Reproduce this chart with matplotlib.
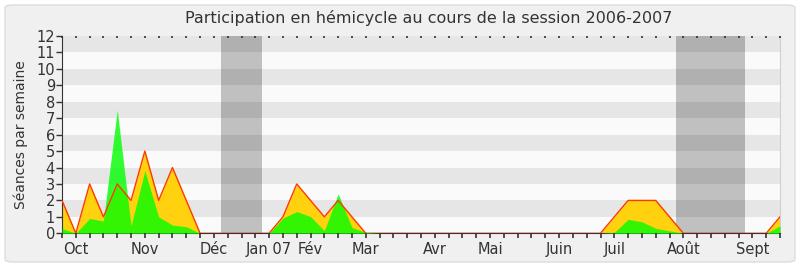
import numpy as np
import matplotlib
matplotlib.use("Agg")
import matplotlib.pyplot as plt
from matplotlib.patches import FancyBboxPatch

# weekly values, week 0 = last week of Sept 2006
seances = [2, 0, 3, 1, 3, 2, 5, 2, 4, 2, 0, 0, 0, 0, 0, 0, 1, 3, 2, 1, 2, 1, 0,
           0, 0, 0, 0, 0, 0, 0, 0, 0, 0, 0, 0, 0, 0, 0, 0, 0, 1, 2, 2, 2, 1, 0,
           0, 0, 0, 0, 0, 0, 1]
presence = [0.3, 0, 0.9, 0.75, 7.5, 0.45, 3.8, 1.0, 0.5, 0.4, 0, 0, 0, 0, 0, 0,
            0.92, 1.32, 1.02, 0.16, 2.4, 0.35, 0.05,
            0, 0, 0, 0, 0, 0, 0, 0, 0, 0, 0, 0, 0, 0, 0, 0, 0,
            0.05, 0.85, 0.7, 0.3, 0.15, 0, 0, 0, 0, 0, 0, 0, 0.45]
vacances = [(11.5, 14.5), (44.5, 49.5)]
mois = ["Oct", "Nov", "Déc", "Jan 07", "Fév", "Mar", "Avr", "Mai", "Juin",
        "Juil", "Août", "Sept"]
mois_sem = [1, 6, 11, 15, 18, 22, 27, 31, 36, 40, 45, 50]

weeks = np.arange(len(seances))
ymax = 12

fig = plt.figure(figsize=(8, 2.67), dpi=100, facecolor="white")
fig.patches.append(FancyBboxPatch((5 / 800, 5 / 267), 790 / 800, 257 / 267,
                                  boxstyle="round,pad=0,rounding_size=0.01",
                                  transform=fig.transFigure, facecolor="#f0f0f0",
                                  edgecolor="#dcdcdc", linewidth=1, zorder=-10))

ax = fig.add_axes([62 / 800, 1 - 233.3 / 267, 718 / 800, 197.3 / 267])
ax.set_facecolor("#fafafa")
for k in range(ymax):
    if k % 2 == 1:
        ax.axhspan(k, k + 1, color="#e6e6e6", lw=0, zorder=0)
for a, b in vacances:
    ax.axvspan(a, b, color="black", alpha=0.23, lw=0, zorder=1)

ax.fill_between(weeks, seances, color="#ffd10f", lw=0, zorder=2)
ax.fill_between(weeks, presence, color="#00ff00", alpha=0.8, lw=0, zorder=3)
ax.plot(weeks, seances, color="#ff3a00", lw=1, zorder=4)

ax.set_xlim(0, len(seances) - 1)
ax.set_ylim(0, ymax)
ax.set_yticks(range(ymax + 1))
ax.set_xticks([])
ax.tick_params(axis="y", direction="out", length=4, width=1, color="#333333",
               labelsize=10.5, labelcolor="#333333", pad=1)
# week ticks: long ones below the axis, small dots along the top
ax.vlines(weeks, -0.3, 0, color="#333333", lw=1.2, zorder=6, clip_on=False)
ax.vlines(weeks, ymax - 0.1, ymax, color="#333333", lw=1.2, zorder=5,
          clip_on=False)

ax.spines["top"].set_visible(False)
ax.spines["right"].set_color("#d0d0d0")
ax.spines["left"].set_color("#333333")
ax.spines["bottom"].set_color("#333333")

for w, m in zip(mois_sem, mois):
    ax.text(w, -0.55, m, ha="center", va="top", fontsize=10.5, color="#333333")

ax.set_ylabel("Séances par semaine", fontsize=10, color="#333333", labelpad=6)
fig.text(429 / 800, 1 - 18 / 267,
         "Participation en hémicycle au cours de la session 2006-2007",
         ha="center", va="center", fontsize=11.5, color="#333333")

fig.savefig("out.png", dpi=100, facecolor=fig.get_facecolor())
